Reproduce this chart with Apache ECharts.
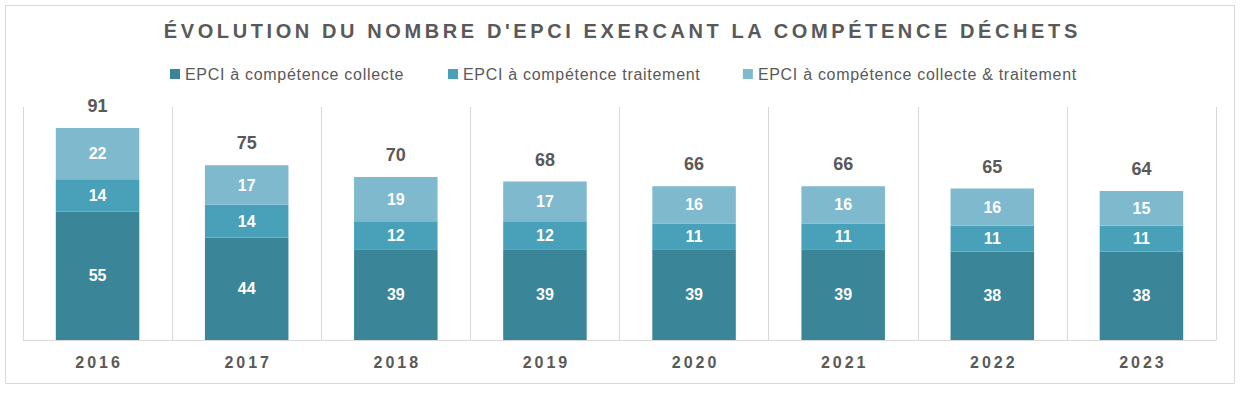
<!DOCTYPE html>
<html>
<head>
<meta charset="utf-8">
<script src="https://cdn.jsdelivr.net/npm/echarts@6/dist/echarts.min.js"></script>
<style>
html,body{margin:0;padding:0;background:#fff;}
#c{width:1241px;height:394px;}
</style>
</head>
<body>
<div id="c"></div>
<script>
const titleText = "ÉVOLUTION DU NOMBRE D'EPCI EXERCANT LA COMPÉTENCE DÉCHETS";
const years = ["2016","2017","2018","2019","2020","2021","2022","2023"];
const seriesNames = ["EPCI à compétence collecte","EPCI à compétence traitement","EPCI à compétence collecte & traitement"];
const collecte = [55,44,39,39,39,39,38,38];
const traitement = [14,14,12,12,11,11,11,11];
const collecteTraitement = [22,17,19,17,16,16,16,15];
const totals = [91,75,70,68,66,66,65,64];
const colors = ["#3A8598","#48A0B9","#7FB9CE"];

const chart = echarts.init(document.getElementById('c'), null, {renderer:'svg'});
const FONT = '"Liberation Sans", Arial, sans-serif';
const inLabel = {show:true, position:'inside', color:'#fff', fontWeight:'bold', fontSize:16, fontFamily:FONT};
function barSeries(name, data, color){
  return {name, type:'bar', stack:'s', data, barWidth:'56%', itemStyle:{color}, label:inLabel, animation:false};
}
chart.setOption({
  animation:false,
  title:{text:titleText, left:'center', top:16,
    textStyle:{fontFamily:FONT, fontSize:20, fontWeight:'bold', color:'#595959'}},
  legend:{data:seriesNames, top:61, left:165, itemWidth:10, itemHeight:10, itemGap:62,
    icon:'rect', textStyle:{fontFamily:FONT, fontSize:16, color:'#595959'}},
  grid:{left:23, right:25, top:107, bottom:54},
  xAxis:{type:'category', data:years,
    axisLine:{lineStyle:{color:'#D9D9D9'}}, axisTick:{show:false},
    splitLine:{show:true, interval:0, lineStyle:{color:'#D9D9D9'}},
    axisLabel:{margin:14, fontFamily:FONT, fontSize:16, fontWeight:'bold', color:'#595959'}},
  yAxis:{type:'value', min:0, max:100, show:false},
  graphic:[{type:'rect', shape:{x:5.5,y:5.5,width:1229,height:378}, style:{fill:'none', stroke:'#D9D9D9', lineWidth:1}, silent:true}],
  series:[
    barSeries(seriesNames[0], collecte, colors[0]),
    barSeries(seriesNames[1], traitement, colors[1]),
    barSeries(seriesNames[2], collecteTraitement, colors[2]),
    {name:'Total', type:'bar', stack:'s', data:years.map(()=>0), barWidth:'56%', itemStyle:{color:'transparent'},
     label:{show:true, position:'top', distance:13, color:'#595959', fontWeight:'bold', fontSize:18, fontFamily:FONT,
       formatter:p=>String(totals[p.dataIndex])}, animation:false}
  ]
});
function spacing(){
  document.querySelectorAll('#c svg text').forEach(t=>{
    const s = t.textContent;
    if (s === titleText) { t.style.letterSpacing = '3.6px'; t.setAttribute('dx','1.8'); }
    else if (years.includes(s)) { t.style.letterSpacing = '3px'; t.setAttribute('dx','1.5'); }
    else if (seriesNames.includes(s)) { t.style.letterSpacing = '0.7px'; }
  });
}
spacing();
chart.on('finished', spacing);
</script>
</body>
</html>
